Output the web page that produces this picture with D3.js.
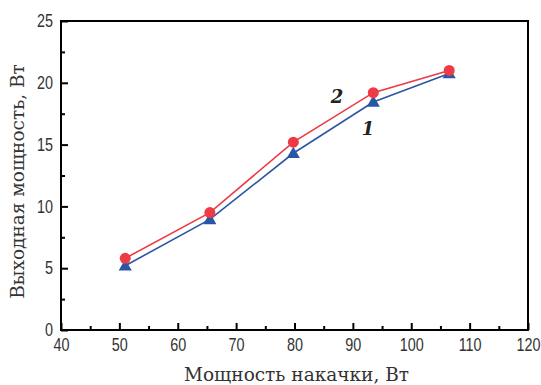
<html>
<head>
<meta charset="utf-8">
<script src="https://cdn.jsdelivr.net/npm/d3@7"></script>
<style>
  body { margin: 0; background: #fff; }
  .tick text { font-family: "Liberation Sans", Arial, sans-serif; font-size: 18px; fill: #333; }
  .axis-title { font-family: "DejaVu Serif", serif; font-size: 18.5px; fill: #333; }
</style>
</head>
<body>
<div id="chart"></div>
<script>
// pump power, W
var pump = [51, 65.5, 79.8, 93.5, 106.5];
// output power, W
var curve1 = [5.2, 8.95, 14.3, 18.45, 20.75];
var curve2 = [5.8, 9.5, 15.2, 19.2, 21.0];
var xTicks = [40, 50, 60, 70, 80, 90, 100, 110, 120];
var yTicks = [0, 5, 10, 15, 20, 25];

var W = 541, H = 385;
var margin = {top: 21, right: 13, bottom: 55, left: 61};

var svg = d3.select("#chart").append("svg")
    .attr("width", W)
    .attr("height", H);

var x = d3.scaleLinear().domain([40, 120]).range([margin.left, W - margin.right]);
var y = d3.scaleLinear().domain([0, 25]).range([H - margin.bottom, margin.top]);

// frame
svg.append("rect")
    .attr("x", x(40)).attr("y", y(25))
    .attr("width", x(120) - x(40)).attr("height", y(0) - y(25))
    .attr("fill", "none").attr("stroke", "#000").attr("stroke-width", 2);

// x axis, ticks pointing inward
var xAxis = svg.append("g")
    .attr("transform", "translate(0," + y(0) + ")")
    .call(d3.axisBottom(x).tickValues(xTicks).tickSizeInner(-7).tickSizeOuter(0).tickPadding(8));
xAxis.select(".domain").remove();
xAxis.selectAll(".tick line").attr("stroke-width", 2);
xAxis.selectAll(".tick text").attr("transform", "scale(0.8,1)");
svg.append("g")
    .attr("transform", "translate(0," + y(0) + ")")
    .call(d3.axisBottom(x).tickValues(d3.range(45, 120, 10)).tickSize(-4).tickFormat(""))
    .call(function (g) { g.select(".domain").remove(); })
    .selectAll("line").attr("stroke-width", 2);

// y axis
var yAxis = svg.append("g")
    .attr("transform", "translate(" + x(40) + ",0)")
    .call(d3.axisLeft(y).tickValues(yTicks).tickSizeInner(-7).tickSizeOuter(0).tickPadding(8));
yAxis.select(".domain").remove();
yAxis.selectAll(".tick line").attr("stroke-width", 2);
yAxis.selectAll(".tick text").attr("x", -10).attr("transform", "scale(0.8,1)");
svg.append("g")
    .attr("transform", "translate(" + x(40) + ",0)")
    .call(d3.axisLeft(y).tickValues(d3.range(2.5, 25, 5)).tickSize(-4).tickFormat(""))
    .call(function (g) { g.select(".domain").remove(); })
    .selectAll("line").attr("stroke-width", 2);

var line = d3.line()
    .x(function (d) { return x(d[0]); })
    .y(function (d) { return y(d[1]); });

var s1 = d3.zip(pump, curve1);
var s2 = d3.zip(pump, curve2);

svg.append("path").datum(s1)
    .attr("d", line).attr("fill", "none")
    .attr("stroke", "#2a56a6").attr("stroke-width", 1.6);
svg.append("path").datum(s2)
    .attr("d", line).attr("fill", "none")
    .attr("stroke", "#ee3a44").attr("stroke-width", 1.6);

var tri = d3.symbol().type(d3.symbolTriangle).size(75);
svg.selectAll(".tri").data(s1).enter().append("path")
    .attr("class", "tri")
    .attr("d", tri)
    .attr("transform", function (d) { return "translate(" + x(d[0]) + "," + (y(d[1]) + 1) + ")"; })
    .attr("fill", "#2a56a6");

svg.selectAll(".dot").data(s2).enter().append("circle")
    .attr("class", "dot")
    .attr("cx", function (d) { return x(d[0]); })
    .attr("cy", function (d) { return y(d[1]); })
    .attr("r", 5.5)
    .attr("fill", "#ee3a44");

// curve labels
svg.append("text")
    .attr("x", x(87.3)).attr("y", y(18.4))
    .attr("text-anchor", "middle")
    .attr("font-family", "DejaVu Serif, serif")
    .attr("font-style", "italic").attr("font-weight", "bold")
    .attr("font-size", 18).attr("fill", "#222")
    .text("2");
svg.append("text")
    .attr("x", x(92.6)).attr("y", y(15.8))
    .attr("text-anchor", "middle")
    .attr("font-family", "DejaVu Serif, serif")
    .attr("font-style", "italic").attr("font-weight", "bold")
    .attr("font-size", 18).attr("fill", "#222")
    .text("1");

// axis titles
svg.append("text")
    .attr("class", "axis-title")
    .attr("x", (x(40) + x(120)) / 2 + 2).attr("y", 381)
    .attr("text-anchor", "middle")
    .text("Мощность накачки, Вт");
svg.append("text")
    .attr("class", "axis-title")
    .attr("transform", "translate(24," + (y(12.5) + 6) + ") rotate(-90)")
    .attr("text-anchor", "middle")
    .text("Выходная мощность, Вт");
</script>
</body>
</html>
